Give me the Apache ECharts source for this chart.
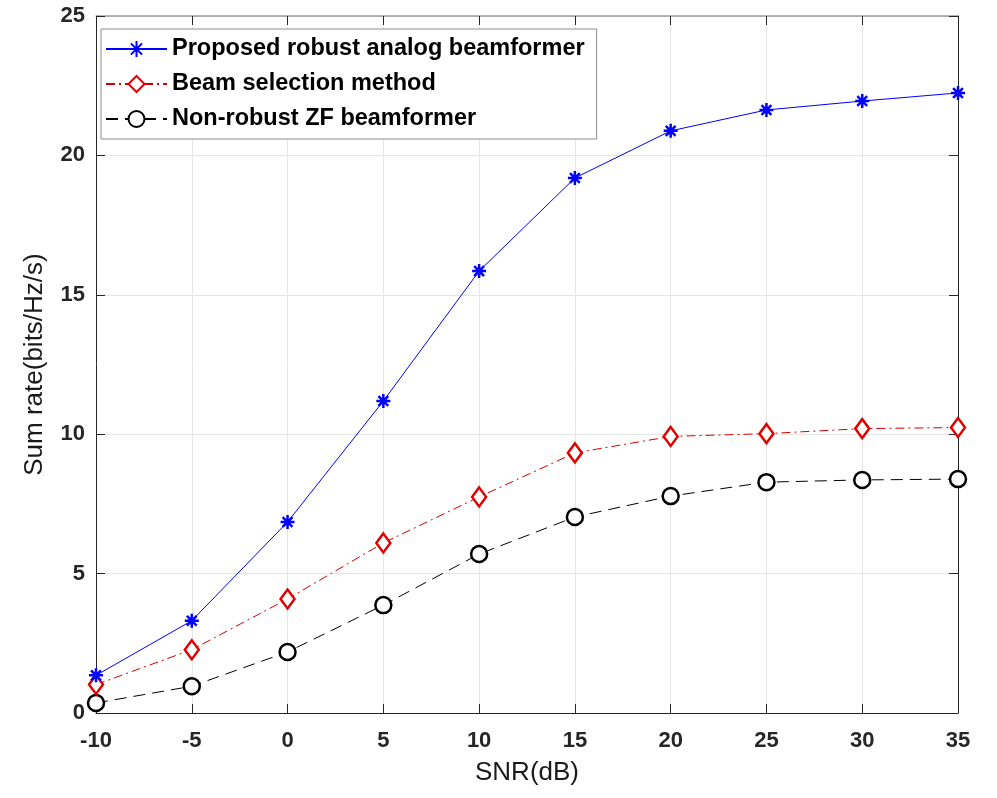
<!DOCTYPE html>
<html>
<head>
<meta charset="utf-8">
<script src="https://cdn.jsdelivr.net/npm/echarts@6/dist/echarts.min.js"></script>
<style>
  html, body { margin: 0; padding: 0; background: #fff; }
  #chart { width: 997px; height: 798px; }
</style>
</head>
<body>
<div id="chart"></div>
<script>
// SNR (dB) on the x axis
const snr = [-10, -5, 0, 5, 10, 15, 20, 25, 30, 35];
// sum rate (bits/Hz/s)
const proposedRobust = [1.35, 3.31, 6.85, 11.19, 15.85, 19.19, 20.88, 21.63, 21.95, 22.24];
const beamSelection = [1.02, 2.27, 4.09, 6.1, 7.75, 9.33, 9.92, 10.02, 10.2, 10.24];
const nonRobustZF = [0.36, 0.96, 2.19, 3.87, 5.7, 7.03, 7.78, 8.28, 8.36, 8.39];
const seriesNames = ["Proposed robust analog beamformer", "Beam selection method", "Non-robust ZF beamformer"];

const pair = (ys) => snr.map((x, i) => [x, ys[i]]);

// MATLAB style '*' marker
const star = "path://M0,-10L0,10M-10,0L10,0M-7,-7L7,7M-7,7L7,-7";

var myChart = echarts.init(document.getElementById("chart"));

const font = "Liberation Sans, Arial";
const tickLabel = { fontFamily: font, fontWeight: "bold", fontSize: 22, color: "#262626" };
const nameStyle = { fontFamily: font, fontWeight: "normal", fontSize: 26, color: "#1a1a1a" };
const inTick = { show: true, inside: true, length: 9, lineStyle: { color: "#262626" } };
const grid = { show: true, lineStyle: { color: "#e6e6e6", width: 1 } };

var option = {
  animation: false,
  backgroundColor: "#fff",
  grid: { left: 96, right: 39, top: 16, bottom: 85 },
  legend: {
    orient: "vertical",
    left: 101,
    top: 29,
    padding: [8, 12, 8, 4],
    itemGap: 11,
    itemWidth: 61,
    itemHeight: 20,
    itemTextGap: 7,
    backgroundColor: "#fff",
    borderColor: "#8c8c8c",
    borderWidth: 1,
    textStyle: { fontFamily: font, fontWeight: "bold", fontSize: 23.5, color: "#000" },
    data: seriesNames,
  },
  xAxis: [
    {
      type: "value",
      min: -10,
      max: 35,
      interval: 5,
      name: "SNR(dB)",
      nameLocation: "middle",
      nameGap: 47,
      nameTextStyle: nameStyle,
      axisLine: { onZero: false, lineStyle: { color: "#262626", width: 1 } },
      axisTick: inTick,
      axisLabel: Object.assign({ margin: 17 }, tickLabel),
      splitLine: grid,
    },
    {
      type: "value",
      position: "top",
      min: -10,
      max: 35,
      interval: 5,
      axisLine: { onZero: false, lineStyle: { color: "#9a9a9a", width: 1.5 } },
      axisTick: inTick,
      axisLabel: { show: false },
      splitLine: { show: false },
    },
  ],
  yAxis: [
    {
      type: "value",
      min: 0,
      max: 25,
      interval: 5,
      name: "Sum rate(bits/Hz/s)",
      nameLocation: "middle",
      nameGap: 48,
      nameTextStyle: nameStyle,
      axisLine: { show: true, onZero: false, lineStyle: { color: "#262626", width: 1 } },
      axisTick: inTick,
      axisLabel: Object.assign({ margin: 11 }, tickLabel),
      splitLine: grid,
    },
    {
      type: "value",
      position: "right",
      min: 0,
      max: 25,
      interval: 5,
      axisLine: { show: true, onZero: false, lineStyle: { color: "#262626", width: 1 } },
      axisTick: inTick,
      axisLabel: { show: false },
      splitLine: { show: false },
    },
  ],
  series: [
    {
      name: seriesNames[0],
      type: "line",
      data: pair(proposedRobust),
      symbol: star,
      symbolSize: 14,
      lineStyle: { color: "#0000ff", width: 1 },
      itemStyle: { color: "#0000ff", borderColor: "#0000ff", borderWidth: 2.5 },
      z: 4,
    },
    {
      name: seriesNames[1],
      type: "line",
      data: pair(beamSelection),
      symbol: "diamond",
      symbolSize: [14, 19],
      lineStyle: { color: "#d40000", width: 1, type: [9, 4, 2, 4] },
      itemStyle: { color: "#fff", borderColor: "#e00000", borderWidth: 2.5 },
      z: 3,
    },
    {
      name: seriesNames[2],
      type: "line",
      data: pair(nonRobustZF),
      symbol: "circle",
      symbolSize: 16,
      lineStyle: { color: "#000", width: 1, type: [12, 7] },
      itemStyle: { color: "#fff", borderColor: "#000", borderWidth: 2.5 },
      z: 2,
    },
  ],
};

myChart.setOption(option);
</script>
</body>
</html>
